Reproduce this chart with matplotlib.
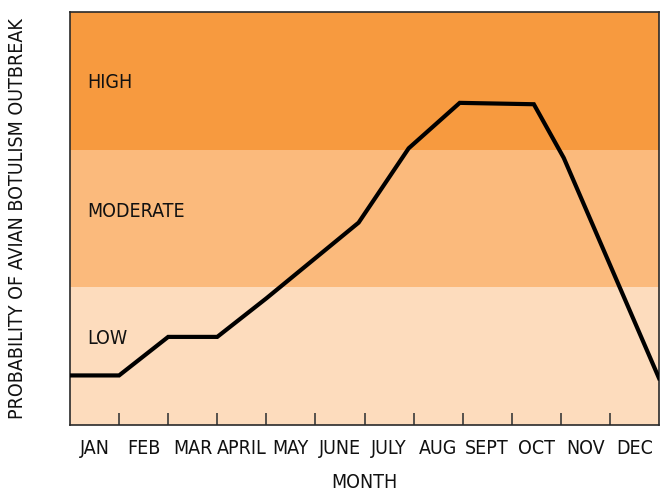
import numpy as np
import matplotlib
matplotlib.use('Agg')
import matplotlib.pyplot as plt

plt.rcParams['font.family'] = ['DejaVu Sans']
plt.rcParams['font.stretch'] = 'condensed'

# dane
months = ['JAN', 'FEB', 'MAR', 'APRIL', 'MAY', 'JUNE', 'JULY', 'AUG', 'SEPT', 'OCT', 'NOV', 'DEC']
line_x = [0, 1, 2, 3, 4, 5.88, 6.9, 7.94, 9.45, 10.06, 12]
line_y = [0.36, 0.36, 0.64, 0.64, 0.92, 1.47, 2.01, 2.34, 2.33, 1.94, 0.34]
band_names = ['LOW', 'MODERATE', 'HIGH']
band_edges = [0, 1, 2, 3]
band_label_y = [0.63, 1.55, 2.49]
band_colors = ['#fddcbd', '#fbba7c', '#f79a3f']

fig = plt.figure(figsize=(6.6, 4.91), dpi=100)
ax = fig.add_axes([70 / 660, 66 / 491, 589 / 660, 413 / 491])

for i, name in enumerate(band_names):
    ax.axhspan(band_edges[i], band_edges[i + 1], color=band_colors[i], lw=0, zorder=0)
    ax.text(0.35, band_label_y[i], name, fontsize=14, color='#111111', va='center', ha='left')

ax.plot(line_x, line_y, color='black', lw=3, solid_joinstyle='miter', zorder=3)

ax.set_xlim(0, 12)
ax.set_ylim(0, 3)
ax.set_xticks(np.arange(1, 12))
ax.set_xticklabels([])
ax.set_xticks(np.arange(12) + 0.5, minor=True)
ax.set_xticklabels(months, minor=True, fontsize=14, color='#111111')
ax.tick_params(axis='x', which='major', direction='in', length=9, width=1.2, color='#3a3a3a')
ax.tick_params(axis='x', which='minor', length=0, pad=10)
ax.set_yticks([])
for s in ax.spines.values():
    s.set_color('#2a2a2a')
    s.set_linewidth(1.2)

ax.set_xlabel('MONTH', fontsize=14, color='#111111', labelpad=11)
ax.set_ylabel('PROBABILITY OF AVIAN BOTULISM OUTBREAK', fontsize=14, color='#111111', labelpad=31)

fig.savefig('out.png', dpi=100)
